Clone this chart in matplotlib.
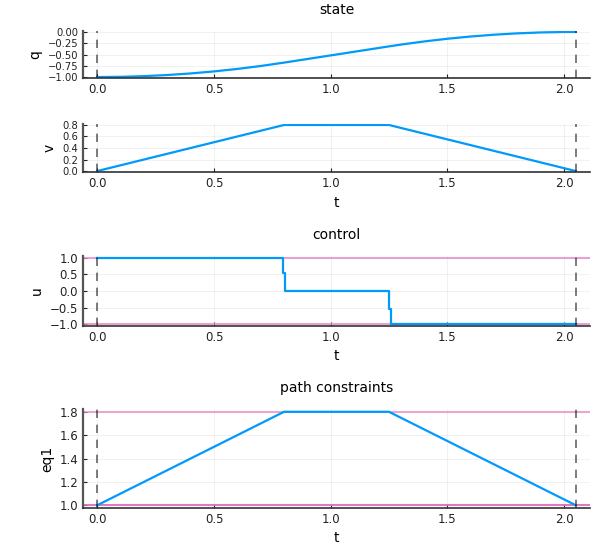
import numpy as np
import matplotlib
matplotlib.use("Agg")
import matplotlib.pyplot as plt
from matplotlib.ticker import FixedLocator, FuncFormatter

# --- data ---
t0, tf = 0.0, 2.05

t_q = [0.0, 0.1, 0.2, 0.3, 0.4, 0.5, 0.6, 0.7, 0.8, 0.9, 1.0, 1.1, 1.2, 1.25,
       1.3, 1.4, 1.5, 1.6, 1.7, 1.8, 1.9, 2.0, 2.05]
q = [-1.0, -0.995, -0.98, -0.955, -0.92, -0.875, -0.82, -0.755, -0.68, -0.60,
     -0.52, -0.44, -0.36, -0.32, -0.281, -0.211, -0.151, -0.101, -0.061,
     -0.031, -0.011, -0.001, 0.0]

t_v = [0.0, 0.8, 1.25, 2.05]
v = [0.0, 0.8, 0.8, 0.0]

t_u = [0.0, 0.795, 0.805, 1.25, 1.26, 2.05]
u = [1.0, 0.55, 0.0, -0.55, -1.0, -1.0]
u_bounds = [-1.0, 1.0]

t_eq = [0.0, 0.8, 1.25, 2.05]
eq1 = [1.0, 1.8, 1.8, 1.0]
eq1_bounds = [1.0, 1.8]

BLUE = "#009AFA"
PINK = "#e38cc8"
W, H = 600, 560

fig = plt.figure(figsize=(W / 100, H / 100), dpi=100)

def make_ax(top, bottom):
    return fig.add_axes([83 / W, 1 - bottom / H, (590 - 83) / W, (bottom - top) / H])

def fmt(nd):
    return FuncFormatter(lambda x, _: f"{x:.{nd}f}".replace("-", "\u2212"))

def style(ax, yticks, nd, ylab, ysize=8.5):
    ax.set_xlim(t0 - 0.03 * (tf - t0), tf + 0.03 * (tf - t0))
    ax.xaxis.set_major_locator(FixedLocator([0, 0.5, 1.0, 1.5, 2.0]))
    ax.xaxis.set_major_formatter(fmt(1))
    ax.yaxis.set_major_locator(FixedLocator(yticks))
    ax.yaxis.set_major_formatter(fmt(nd))
    ax.grid(True, color="black", alpha=0.08, lw=0.5)
    ax.set_axisbelow(True)
    for s in ("top", "right"):
        ax.spines[s].set_visible(False)
    ax.spines["left"].set_color("#555555")
    ax.spines["left"].set_linewidth(1.6)
    ax.spines["bottom"].set_color("#333333")
    ax.spines["bottom"].set_linewidth(1.2)
    ax.tick_params(direction="in", length=3, labelsize=8.5, colors="#222222")
    ax.tick_params(axis="y", labelsize=ysize)
    ax.set_ylabel(ylab, fontsize=10)
    for tt in (t0, tf):
        ax.axvline(tt, color="black", alpha=0.6, lw=1.2, ls=(0, (5, 4)))

# state: q
ax1 = make_ax(30.6, 78.4)
ax1.plot(t_q, q, color=BLUE, lw=1.6)
ax1.set_ylim(-1.03, 0.03)
style(ax1, [-1.0, -0.75, -0.5, -0.25, 0.0], 2, "q", ysize=7.2)
ax1.set_title("state", fontsize=10, pad=12)

# state: v
ax2 = make_ax(123.6, 172.4)
ax2.plot(t_v, v, color=BLUE, lw=1.6)
ax2.set_ylim(-0.024, 0.824)
style(ax2, [0.0, 0.2, 0.4, 0.6, 0.8], 1, "v", ysize=7.2)
ax2.set_xlabel("t", fontsize=10)

# control
ax3 = make_ax(256, 326)
for b in u_bounds:
    ax3.axhline(b, color=PINK, lw=1.5, alpha=0.8)
ax3.step(t_u, u, where="post", color=BLUE, lw=1.6)
ax3.set_ylim(-1.06, 1.06)
style(ax3, [-1.0, -0.5, 0.0, 0.5, 1.0], 1, "u")
ax3.set_xlabel("t", fontsize=10)
ax3.set_title("control", fontsize=10, pad=12)

# path constraints
ax4 = make_ax(409, 508)
ax4.axhline(eq1_bounds[1], color=PINK, lw=1.5, alpha=0.75)
ax4.axhline(eq1_bounds[0], color="#dc6cbc", lw=1.5, alpha=0.9)
ax4.plot(t_eq, eq1, color=BLUE, lw=1.6)
ax4.set_ylim(0.976, 1.824)
style(ax4, [1.0, 1.2, 1.4, 1.6, 1.8], 1, "eq1")
ax4.set_xlabel("t", fontsize=10)
ax4.set_title("path constraints", fontsize=10, pad=12)

fig.savefig("out.png", dpi=100)
